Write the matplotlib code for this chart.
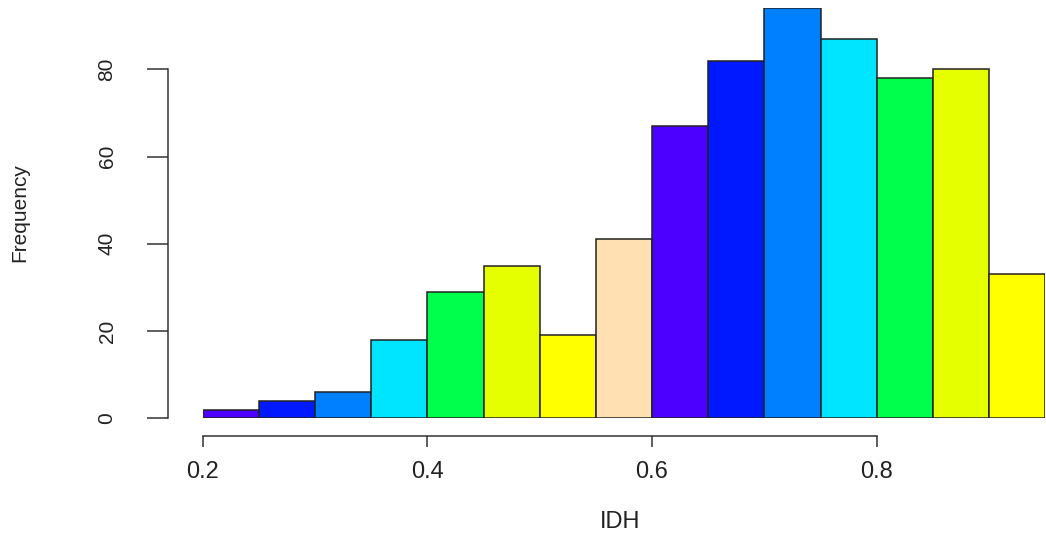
import numpy as np
import matplotlib
matplotlib.use("Agg")
import matplotlib.pyplot as plt

# histogram of IDH values (bins of 0.05)
bin_edges = [0.20, 0.25, 0.30, 0.35, 0.40, 0.45, 0.50, 0.55,
             0.60, 0.65, 0.70, 0.75, 0.80, 0.85, 0.90, 0.95]
counts = [2, 4, 6, 18, 29, 35, 19, 41, 67, 82, 94, 87, 78, 80, 33]
x_ticks = [0.2, 0.4, 0.6, 0.8]
y_ticks = [0, 20, 40, 60, 80]

# R topo.colors(8), recycled
palette = ["#4C00FF", "#0019FF", "#0080FF", "#00E5FF",
           "#00FF4D", "#E6FF00", "#FFFF00", "#FFE0B3"]
colors = [palette[i % len(palette)] for i in range(len(counts))]

plt.rcParams['font.family'] = ['Liberation Sans', 'DejaVu Sans']

W, H = 1046, 533
fig = plt.figure(figsize=(W / 100, H / 100), dpi=100)

# plot region in pixels (data 0.2..0.95 x 0..94)
x0, x1 = 202.7, 1045.2
y0, y1 = 418.3, 8.2
ax = fig.add_axes([x0 / W, 1 - y0 / H, (x1 - x0) / W, (y0 - y1) / H])

lefts = np.array(bin_edges[:-1])
widths = np.diff(bin_edges)
ax.bar(lefts, counts, width=widths, align='edge', color=colors,
       edgecolor='#222222', linewidth=1.1)

ax.set_xlim(bin_edges[0], bin_edges[-1])
ax.set_ylim(0, 94)

for s in ['top', 'right']:
    ax.spines[s].set_visible(False)
ax.spines['left'].set_position(('outward', (x0 - 168) * 0.72))
ax.spines['bottom'].set_position(('outward', (436 - y0) * 0.72))
ax.spines['left'].set_bounds(0, 80)
ax.spines['bottom'].set_bounds(0.2, 0.8)
for s in ['left', 'bottom']:
    ax.spines[s].set_color('#333333')
    ax.spines[s].set_linewidth(1.1)

ax.set_xticks(x_ticks)
ax.set_xticklabels([f"{v:.1f}" for v in x_ticks], fontsize=17, color='#222222')
ax.set_yticks(y_ticks)
ax.set_yticklabels([str(v) for v in y_ticks], fontsize=15, rotation=90,
                   va='center', color='#222222')
ax.tick_params(axis='x', length=8, width=1.1, color='#333333', pad=10)
ax.tick_params(axis='y', length=15, width=1.1, color='#333333', pad=22)

fig.text(620 / W, 1 - 522 / H, "IDH", fontsize=17, ha='center', va='center',
         color='#222222')
fig.text(20 / W, 1 - 213 / H, "Frequency", fontsize=15, rotation=90,
         ha='center', va='center', color='#222222')

fig.savefig("out.png", dpi=100)
